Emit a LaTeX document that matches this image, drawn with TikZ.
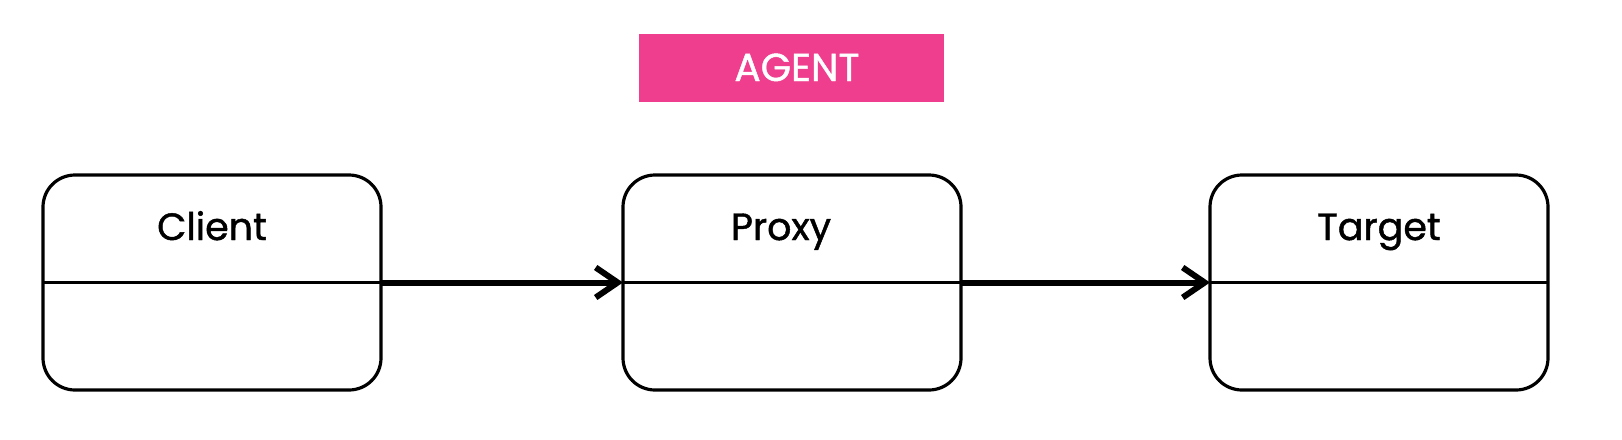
\documentclass[tikz,border=0pt]{standalone}
\usepackage{fontspec}
\setmainfont{Poppins}[FakeBold=1.2]
\usetikzlibrary{arrows.meta,positioning}
\definecolor{agentpink}{HTML}{F03E8E}
\begin{document}
\begin{tikzpicture}[x=1pt,y=-1pt,
  classbox/.style={draw=black, line width=3.2pt, rounded corners=32pt, minimum width=338pt, minimum height=215pt, inner sep=0pt, outer sep=0pt},
  title/.style={font=\fontsize{38}{44}\selectfont, text=black, inner sep=0pt, anchor=base},
  divider/.style={draw=black, line width=3.2pt},
  conn/.style={draw=black, line width=6pt, -{Straight Barb[length=22pt,width=30pt]}}
]
\useasboundingbox (0,0) rectangle (1622,439);
\node[fill=agentpink, minimum width=305pt, minimum height=68pt, inner sep=0pt] (agent) at (791.5,68) {};
\node[text=white, font=\fontsize{39}{44}\selectfont, inner sep=0pt, anchor=base] (agentlbl) at (797,81) {AGENT};

\node[classbox] (client) at (212,282.5) {};
\node[classbox] (proxy) at (792,282.5) {};
\node[classbox] (target) at (1379,282.5) {};

\draw[divider] (client.west) -- (client.east);
\draw[divider] (proxy.west) -- (proxy.east);
\draw[divider] (target.west) -- (target.east);

\node[title] (clientlbl) at (212,240) {Client};
\node[title] (proxylbl) at (781,240) {Proxy};
\node[title] (targetlbl) at (1379,240) {Target};

\draw[conn] (client.east) -- (proxy.west);
\draw[conn] (proxy.east) -- (target.west);
\end{tikzpicture}
\end{document}
